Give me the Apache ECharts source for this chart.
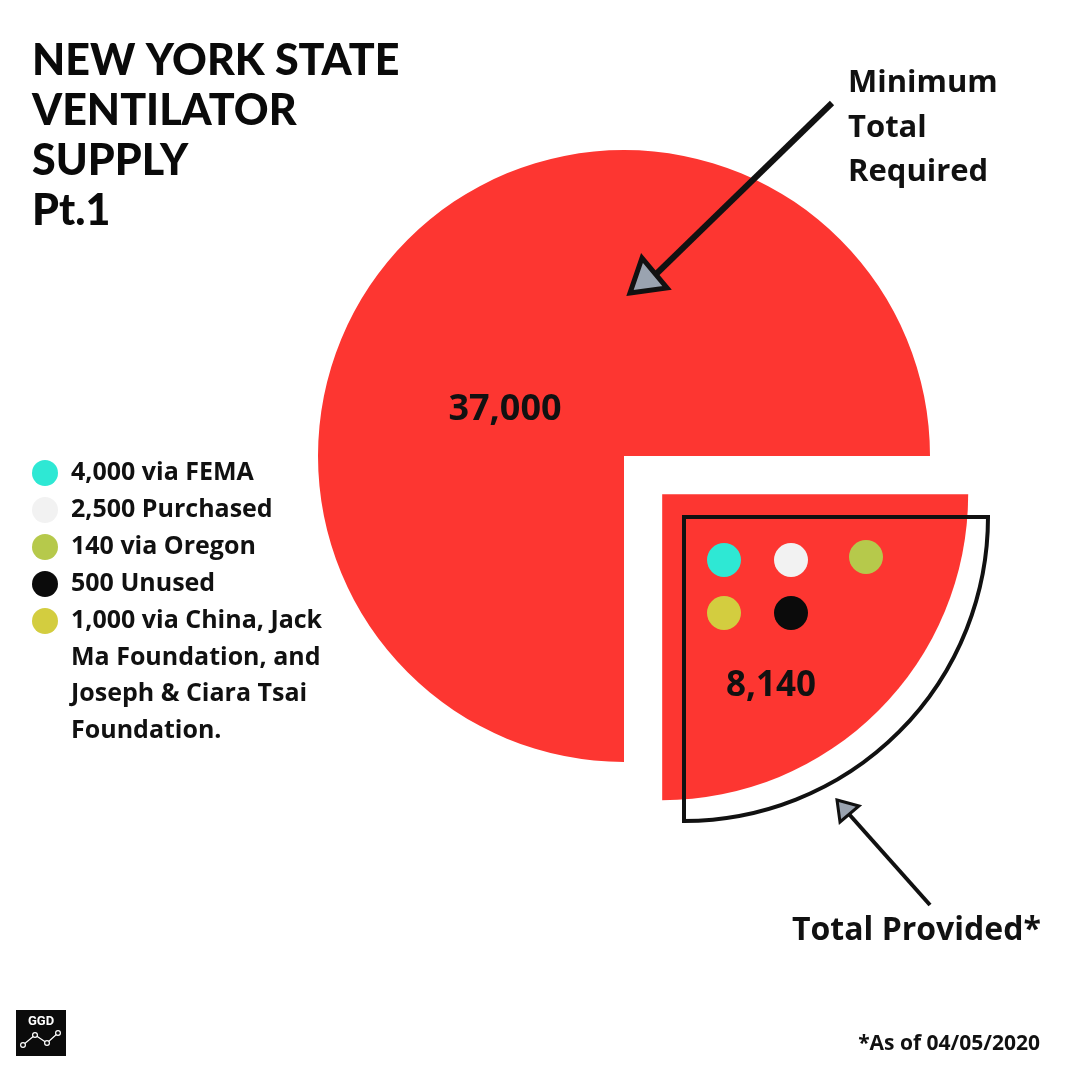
<!DOCTYPE html>
<html>
<head>
<meta charset="utf-8">
<title>New York State Ventilator Supply Pt.1</title>
<script src="https://cdn.jsdelivr.net/npm/echarts@6/dist/echarts.min.js"></script>
<style>
  html, body { margin: 0; padding: 0; background: #ffffff; }
  #main { width: 1080px; height: 1080px; }
</style>
</head>
<body>
<div id="main"></div>
<script>
// slices: provided first (3 o'clock -> 6 o'clock), then required
var sliceNames = ['Total Provided', 'Minimum Total Required'];
var sliceLabels = ['8,140', '37,000'];
var sliceShares = [25, 75]; // share of the circle as drawn

// sources of the provided ventilators
var sourceNames = [
    '4,000 via FEMA',
    '2,500 Purchased',
    '140 via Oregon',
    '500 Unused',
    '1,000 via China, Jack\nMa Foundation, and\nJoseph & Ciara Tsai\nFoundation.'
];
var sourceColors = ['#2ee8d4', '#f2f2f2', '#b6c94b', '#0b0b0b', '#d3cd3f'];

var RED = '#fd3631';
var FONT = '"Open Sans", sans-serif';

var myChart = echarts.init(document.getElementById('main'));

// 图例 (left side)
var legendItems = [];
sourceNames.forEach(function (name, i) {
    var y = 473 + i * 37;
    legendItems.push({
        type: 'circle',
        shape: { cx: 45, cy: y, r: 13 },
        style: { fill: sourceColors[i] }
    });
    legendItems.push({
        type: 'text',
        x: 71, y: y - 18,
        style: {
            text: name,
            font: 'bold 25px ' + FONT,
            fill: '#111',
            lineHeight: 36.5,
            verticalAlign: 'top'
        }
    });
});

// dots inside the provided slice: cyan, white, olive / yellow, black
var dotOrder = [0, 1, 2, 4, 3];
var dotPos = [[724, 560], [791, 560], [866, 557], [724, 613], [791, 613]];
var dots = dotOrder.map(function (k, i) {
    return {
        type: 'circle',
        shape: { cx: dotPos[i][0], cy: dotPos[i][1], r: 17 },
        style: { fill: sourceColors[k] },
        z: 20
    };
});

function arrow(x1, y1, x2, y2, head, lw) {
    return [
        { type: 'line', shape: { x1: x1, y1: y1, x2: x2, y2: y2 },
          style: { stroke: '#111', lineWidth: lw }, z: 30 },
        { type: 'polygon', shape: { points: head },
          style: { fill: '#9aa3b0', stroke: '#111', lineWidth: lw - 1, lineJoin: 'miter' }, z: 31 }
    ];
}

var option = {
    backgroundColor: '#ffffff',
    animation: false,
    series: [
        {
            name: 'supply',
            type: 'pie',
            center: [624, 456],
            radius: [0, 306],
            startAngle: 0,
            clockwise: true,
            selectedMode: 'single',
            selectedOffset: 54,
            silent: true,
            label: { show: false },
            labelLine: { show: false },
            emphasis: { disabled: true },
            itemStyle: { color: RED, borderWidth: 0 },
            data: sliceShares.map(function (v, i) {
                return { name: sliceNames[i], value: v, selected: i === 0 };
            }),
            z: 2
        },
        {
            name: 'outline',
            type: 'pie',
            center: [684, 517],
            radius: [0, 304],
            startAngle: 0,
            clockwise: true,
            silent: true,
            label: { show: false },
            labelLine: { show: false },
            emphasis: { disabled: true },
            data: sliceShares.map(function (v, i) {
                return {
                    name: sliceNames[i] + ' outline',
                    value: v,
                    itemStyle: i === 0
                        ? { color: 'rgba(0,0,0,0)', borderColor: '#111', borderWidth: 4, borderJoin: 'miter' }
                        : { color: 'rgba(0,0,0,0)', borderWidth: 0 }
                };
            }),
            z: 3
        }
    ],
    graphic: [
        {
            type: 'text', x: 32, y: 36,
            style: {
                text: 'NEW YORK STATE\nVENTILATOR\nSUPPLY\nPt.1',
                font: '900 43px Lato, sans-serif',
                fill: '#0a0a0a', lineHeight: 50, verticalAlign: 'top'
            }
        },
        {
            type: 'text', x: 848, y: 61,
            style: {
                text: 'Minimum\nTotal\nRequired',
                font: 'bold 31px ' + FONT,
                fill: '#111', lineHeight: 44.5, verticalAlign: 'top'
            }
        },
        {
            type: 'text', x: 505, y: 410,
            style: { text: sliceLabels[1], font: 'bold 36px ' + FONT, fill: '#111', align: 'center', verticalAlign: 'middle' },
            z: 20
        },
        {
            type: 'text', x: 771, y: 686,
            style: { text: sliceLabels[0], font: 'bold 35px ' + FONT, fill: '#111', align: 'center', verticalAlign: 'middle' },
            z: 20
        },
        {
            type: 'text', x: 792, y: 931,
            style: { text: 'Total Provided*', font: 'bold 32px ' + FONT, fill: '#111', verticalAlign: 'middle' }
        },
        {
            type: 'text', x: 1040, y: 1044,
            style: { text: '*As of 04/05/2020', font: 'bold 21px ' + FONT, fill: '#111', align: 'right', verticalAlign: 'middle' }
        },
        // GGD logo
        {
            type: 'group',
            children: [
                { type: 'rect', shape: { x: 16, y: 1010, width: 50, height: 46 }, style: { fill: '#0b0b0b' } },
                { type: 'text', x: 41, y: 1022, style: { text: 'GGD', font: 'bold 13px Roboto, sans-serif', fill: '#fff', align: 'center', verticalAlign: 'middle' } },
                { type: 'polyline', shape: { points: [[23, 1045], [35, 1035], [47, 1043], [58, 1033]] }, style: { stroke: '#fff', lineWidth: 1.2, fill: null } },
                { type: 'circle', shape: { cx: 23, cy: 1045, r: 2.4 }, style: { fill: '#0b0b0b', stroke: '#fff', lineWidth: 1.2 } },
                { type: 'circle', shape: { cx: 35, cy: 1035, r: 2.4 }, style: { fill: '#0b0b0b', stroke: '#fff', lineWidth: 1.2 } },
                { type: 'circle', shape: { cx: 47, cy: 1043, r: 2.4 }, style: { fill: '#0b0b0b', stroke: '#fff', lineWidth: 1.2 } },
                { type: 'circle', shape: { cx: 58, cy: 1033, r: 2.4 }, style: { fill: '#0b0b0b', stroke: '#fff', lineWidth: 1.2 } }
            ]
        }
    ]
        .concat(legendItems)
        .concat(dots)
        .concat(arrow(832, 103, 650, 280, [[630, 293], [667, 288], [642, 258]], 6))
        .concat(arrow(930, 905, 848, 813, [[837, 800], [859, 806], [840, 822]], 4))
};

myChart.setOption(option);
</script>
</body>
</html>
